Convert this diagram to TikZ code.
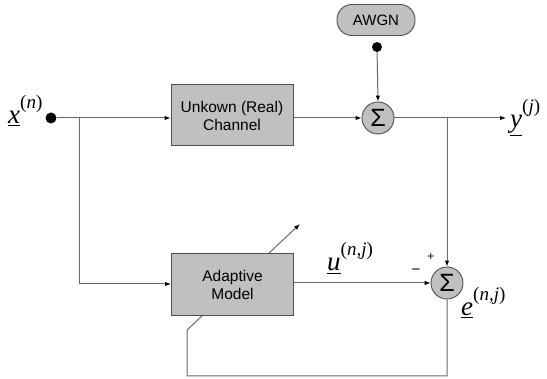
\documentclass[tikz,border=0pt]{standalone}
\usepackage{fontspec}
\setmainfont{Liberation Sans}
\newfontfamily\tms{Liberation Serif}
\usetikzlibrary{arrows.meta}
\definecolor{boxfill}{RGB}{192,192,192}
\definecolor{boxline}{RGB}{80,80,80}
\definecolor{wire}{RGB}{105,105,105}

% underlined italic signal name with a bracketed superscript index
\newcommand{\sig}[2]{{\tms\fontsize{27}{27}\selectfont\underline{\itshape #1}\raisebox{0.56em}{\fontsize{19}{19}\selectfont(\textit{#2})}}}

\tikzset{
  wire/.style={draw=wire, line width=1pt},
  arr/.style={wire, -{Latex[length=6pt,width=4.5pt,color=black]}},
  block/.style={draw=boxline, fill=boxfill, line width=1pt, minimum width=122pt, minimum height=61pt,
    align=center, font=\fontsize{15.5}{18}\selectfont, inner sep=0pt},
  summer/.style={circle, draw=boxline, fill=boxfill, line width=0.9pt, minimum size=32pt, inner sep=0pt,
    font=\fontsize{25}{25}\selectfont},
  dotnode/.style={circle, fill=black, minimum size=11pt, inner sep=0pt},
  sign/.style={font=\fontsize{12}{12}\selectfont, inner sep=0pt}
}

\begin{document}
\begin{tikzpicture}[x=1pt, y=-1pt]
  \useasboundingbox (0,0) rectangle (547,379);

  % nodes
  \node[dotnode] (xin) at (51,118) {};
  \node[anchor=base west, inner sep=0pt] (xlab) at (8,124) {\sig{x}{n}};
  \node[summer] (s1) at (378,118) {Σ};
  \node[summer] (s2) at (447,283) {Σ};
  \node[draw=boxline, fill=boxfill, line width=0.9pt, rounded corners=15pt, minimum width=78pt,
        minimum height=31pt, inner sep=0pt, font=\fontsize{15}{15}\selectfont] (awgn) at (376,20) {AWGN};
  \node[dotnode, minimum size=10pt] (ndot) at (377,47) {};
  \node[anchor=base west, inner sep=0pt] (ylab) at (510,128) {\sig{y}{j}};
  \node[anchor=base west, inner sep=0pt] (ulab) at (327,271) {\sig{u}{n,j}};
  \node[anchor=base west, inner sep=0pt] (elab) at (461,316) {\sig{e}{n,j}};
  \node[sign] (plus) at (431,257) {+};
  \node[sign, font=\fontsize{15}{15}\selectfont] (minus) at (416,272) {−};
  \coordinate (yend) at (506,118);
  \coordinate (jx) at (79,118);
  \coordinate (jy) at (447,118);
  \coordinate (fb1) at (187,376);
  \coordinate (fb2) at (187,330);
  \coordinate (fb3) at (300,224);

  % adaptation path: error fed back and drawn through the adaptive block
  \draw[arr] (s2.south) |- (fb1) -- (fb2) -- (fb3);

  % blocks drawn over the adaptation arrow
  \node[block] (chan) at (232,115.5) {Unkown (Real)\\Channel};
  \node[block, minimum height=62pt] (model) at (232.5,285) {Adaptive\\Model};

  % signal flow
  \draw[arr] (xin) -- (chan.west |- xin);
  \draw[arr] (jx) |- (model.west |- 0,284);
  \draw[arr] (chan.east |- s1) -- (s1.west);
  \draw[arr] (ndot) -- (s1.north);
  \draw[arr] (s1.east) -- (yend);
  \draw[arr] (jy) -- (s2.north);
  \draw[arr] (model.east |- s2) -- (s2.west);
\end{tikzpicture}
\end{document}
